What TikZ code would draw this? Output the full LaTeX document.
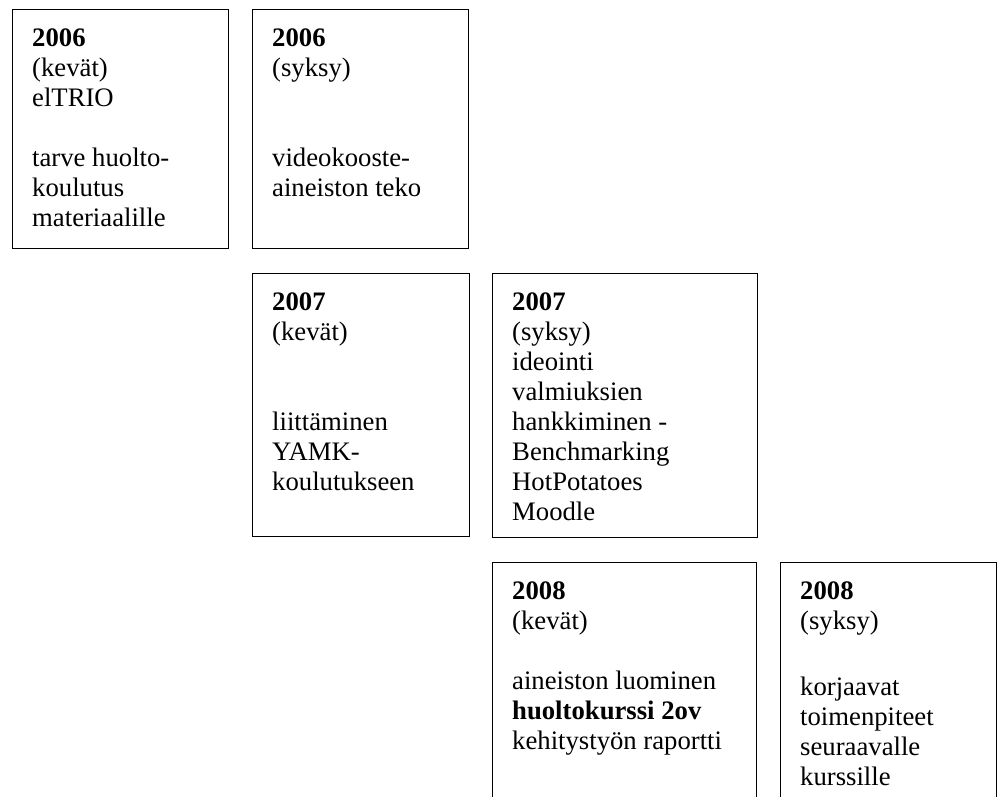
\documentclass[tikz,border=0pt]{standalone}
\usepackage{fontspec}
\setmainfont{Liberation Serif}
\begin{document}
\begin{tikzpicture}[x=1pt,y=1pt,
  frame/.style={draw=black, line width=1.4pt, rectangle, inner sep=0pt, anchor=north west},
  entry/.style={anchor=base west, inner sep=0pt, font=\fontsize{26.7}{30}\selectfont}]
\useasboundingbox (0,0) rectangle (1001,-796);
% text block: first baseline sits 37pt below the frame's top edge
\newcommand{\entrytext}[1]{\parbox[t]{240pt}{\raggedright #1}}

% frames
\node[frame, minimum width=216pt, minimum height=239pt] (f1) at (12,-9) {};
\node[frame, minimum width=216pt, minimum height=239pt] (f2) at (252,-9) {};
\node[frame, minimum width=217pt, minimum height=263pt] (f3) at (252,-273) {};
\node[frame, minimum width=265pt, minimum height=264pt] (f4) at (492,-273) {};
\node[frame, minimum width=264pt, minimum height=270pt] (f5) at (492,-562) {};
\node[frame, minimum width=216pt, minimum height=270pt] (f6) at (780,-562) {};

% texts
\node[entry] (t1) at ([xshift=20pt,yshift=-37pt]f1.north west) {\entrytext{%
  \textbf{2006}\\ (kevät)\\ elTRIO\\[30pt] tarve huolto-\\ koulutus\\ materiaalille}};
\node[entry] (t2) at ([xshift=20pt,yshift=-37pt]f2.north west) {\entrytext{%
  \textbf{2006}\\ (syksy)\\[60pt] videokooste-\\ aineiston teko}};
\node[entry] (t3) at ([xshift=20pt,yshift=-37pt]f3.north west) {\entrytext{%
  \textbf{2007}\\ (kevät)\\[60pt] liittäminen\\ YAMK-\\ koulutukseen}};
\node[entry] (t4) at ([xshift=20pt,yshift=-37pt]f4.north west) {\entrytext{%
  \textbf{2007}\\ (syksy)\\ ideointi\\ valmiuksien\\ hankkiminen -\\ Benchmarking\\ HotPotatoes\\ Moodle}};
\node[entry] (t5) at ([xshift=20pt,yshift=-37pt]f5.north west) {\entrytext{%
  \textbf{2008}\\ (kevät)\\[30pt] aineiston luominen\\ \textbf{huoltokurssi 2ov}\\ kehitystyön raportti}};
\node[entry] (t6) at ([xshift=20pt,yshift=-37pt]f6.north west) {\entrytext{%
  \textbf{2008}\\ (syksy)\\[36pt] korjaavat\\ toimenpiteet\\ seuraavalle\\ kurssille}};
\end{tikzpicture}
\end{document}
